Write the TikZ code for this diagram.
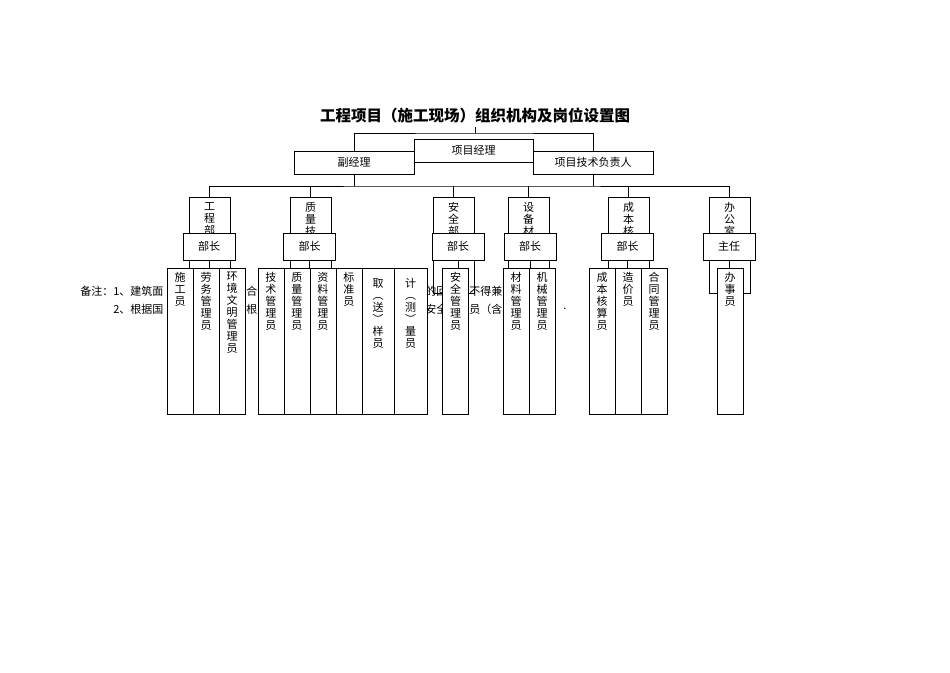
\documentclass[tikz,border=0pt]{standalone}
\usepackage{fontspec}
\setmainfont{Noto Sans CJK SC}
\usetikzlibrary{positioning}

\begin{document}
\begin{tikzpicture}[x=1pt,y=-1pt,line width=0.6pt,
  every node/.style={font=\fontsize{11}{12}\selectfont},
  topbox/.style={rectangle,draw,fill=white,minimum width=120pt,minimum height=23pt,inner sep=0pt},
  deptbox/.style={rectangle,draw,minimum width=41pt,minimum height=96pt,inner sep=0pt},
  headbox/.style={rectangle,draw,fill=white,minimum width=52pt,minimum height=27pt,inner sep=0pt},
  postbox/.style={rectangle,draw,fill=white,minimum width=26pt,minimum height=146pt,inner sep=0pt},
  vtext/.style={align=center,inner sep=0pt}]
\useasboundingbox (0,0) rectangle (950,672);
%
\node at (475,116) (title) {\fontsize{15.5}{16}\selectfont\bfseries 工程项目（施工现场）组织机构及岗位设置图};
%
\node at (473.5,150.5) [topbox,minimum width=119pt] (pm) {项目经理};
\node at (354,162.5) [topbox] (dm) {副经理};
\node at (593,162.5) [topbox] (te) {项目技术负责人};
%
\coordinate (t0) at (475,133);
\coordinate (bus) at (475,186);
\draw (title.south) -- (t0);
\draw (dm.north) |- (t0) -| (te.north);
%
\node at (209.5,245) [deptbox] (d1) {};
\node at (310.5,245) [deptbox] (d2) {};
\node at (453.5,245) [deptbox] (d3) {};
\node at (528.5,245) [deptbox] (d4) {};
\node at (628.5,245) [deptbox] (d5) {};
\node at (729.5,245) [deptbox] (d6) {};
%
\node [vtext,below=5pt of d1.north] (d1t) {工\\程\\部};
\node [vtext,below=5pt of d2.north] (d2t) {质\\量\\技};
\node [vtext,below=5pt of d3.north] (d3t) {安\\全\\部};
\node [vtext,below=5pt of d4.north] (d4t) {设\\备\\材};
\node [vtext,below=5pt of d5.north] (d5t) {成\\本\\核};
\node [vtext,below=5pt of d6.north] (d6t) {办\\公\\室};
%
\draw (dm.south) -- (dm.south |- bus);
\draw (te.south) -- (te.south |- bus);
\draw (d1.north) |- (bus) -| (d6.north);
\draw (d2.north) -- (d2.north |- bus);
\draw (d3.north) -- (d3.north |- bus);
\draw (d4.north) -- (d4.north |- bus);
\draw (d5.north) -- (d5.north |- bus);
%
\node at (209,246.5) [headbox] (h1) {部长};
\node at (309.5,246.5) [headbox] (h2) {部长};
\node at (458,246.5) [headbox] (h3) {部长};
\node at (530,246.5) [headbox] (h4) {部长};
\node at (627.5,246.5) [headbox] (h5) {部长};
\node at (729,246.5) [headbox] (h6) {主任};
%
% remark lines, mostly covered by the post boxes
\node at (80,291) [anchor=west,inner sep=0pt] (n1) {备注：1、建筑面};
\node at (246,291) [anchor=west,inner sep=0pt] (n2) {合};
\node at (425,291) [anchor=west,inner sep=0pt] (n3) {的回};
\node at (469,291) [anchor=west,inner sep=0pt] (n4) {不得兼};
\node at (113,309) [anchor=west,inner sep=0pt] (n5) {2、根据国};
\node at (246,309) [anchor=west,inner sep=0pt] (n6) {根};
\node at (425,309) [anchor=west,inner sep=0pt] (n7) {安全};
\node at (469,309) [anchor=west,inner sep=0pt] (n8) {员（含};
\node at (563,309) [anchor=west,inner sep=0pt] (n9) {.};
%
\node at (180,341) [postbox] (p1) {};
\node at (206,341) [postbox] (p2) {};
\node at (232,341) [postbox] (p3) {};
\node at (270.8,341) [postbox] (p4) {};
\node at (296.8,341) [postbox] (p5) {};
\node at (322.8,341) [postbox] (p6) {};
\node at (348.8,341) [postbox] (p7) {};
\node at (378,341) [postbox,minimum width=32pt] (p8) {};
\node at (410.5,341) [postbox,minimum width=33pt] (p9) {};
\node at (455.5,341) [postbox] (p10) {};
\node at (516,341) [postbox] (p11) {};
\node at (542,341) [postbox] (p12) {};
\node at (602,341) [postbox] (p13) {};
\node at (628,341) [postbox] (p14) {};
\node at (654,341) [postbox] (p15) {};
\node at (730,341) [postbox] (p16) {};
%
\draw (h1.south) -- (h1.south |- p2.north);
\draw (h2.south) -- (h2.south |- p5.north);
\draw (h3.south) -- (h3.south |- p10.north);
\draw (h4.south) -- (h4.south |- p11.north);
\draw (h5.south) -- (h5.south |- p14.north);
\draw (h6.south) -- (h6.south |- p16.north);
%
\node [vtext,below=4pt of p1.north] (p1t) {施\\工\\员};
\node [vtext,below=4pt of p2.north] (p2t) {劳\\务\\管\\理\\员};
\node [vtext,below=4pt of p3.north] (p3t) {环\\境\\文\\明\\管\\理\\员};
\node [vtext,below=4pt of p4.north] (p4t) {技\\术\\管\\理\\员};
\node [vtext,below=4pt of p5.north] (p5t) {质\\量\\管\\理\\员};
\node [vtext,below=4pt of p6.north] (p6t) {资\\料\\管\\理\\员};
\node [vtext,below=4pt of p7.north] (p7t) {标\\准\\员};
\node [vtext,below=11pt of p8.north] (p8t) {取\\︵\\送\\︶\\样\\员};
\node [vtext,below=10pt of p9.north] (p9t) {计\\︵\\测\\︶\\量\\员};
\node [vtext,below=4pt of p10.north] (p10t) {安\\全\\管\\理\\员};
\node [vtext,below=4pt of p11.north] (p11t) {材\\料\\管\\理\\员};
\node [vtext,below=4pt of p12.north] (p12t) {机\\械\\管\\理\\员};
\node [vtext,below=4pt of p13.north] (p13t) {成\\本\\核\\算\\员};
\node [vtext,below=4pt of p14.north] (p14t) {造\\价\\员};
\node [vtext,below=4pt of p15.north] (p15t) {合\\同\\管\\理\\员};
\node [vtext,below=4pt of p16.north] (p16t) {办\\事\\员};
\end{tikzpicture}
\end{document}
